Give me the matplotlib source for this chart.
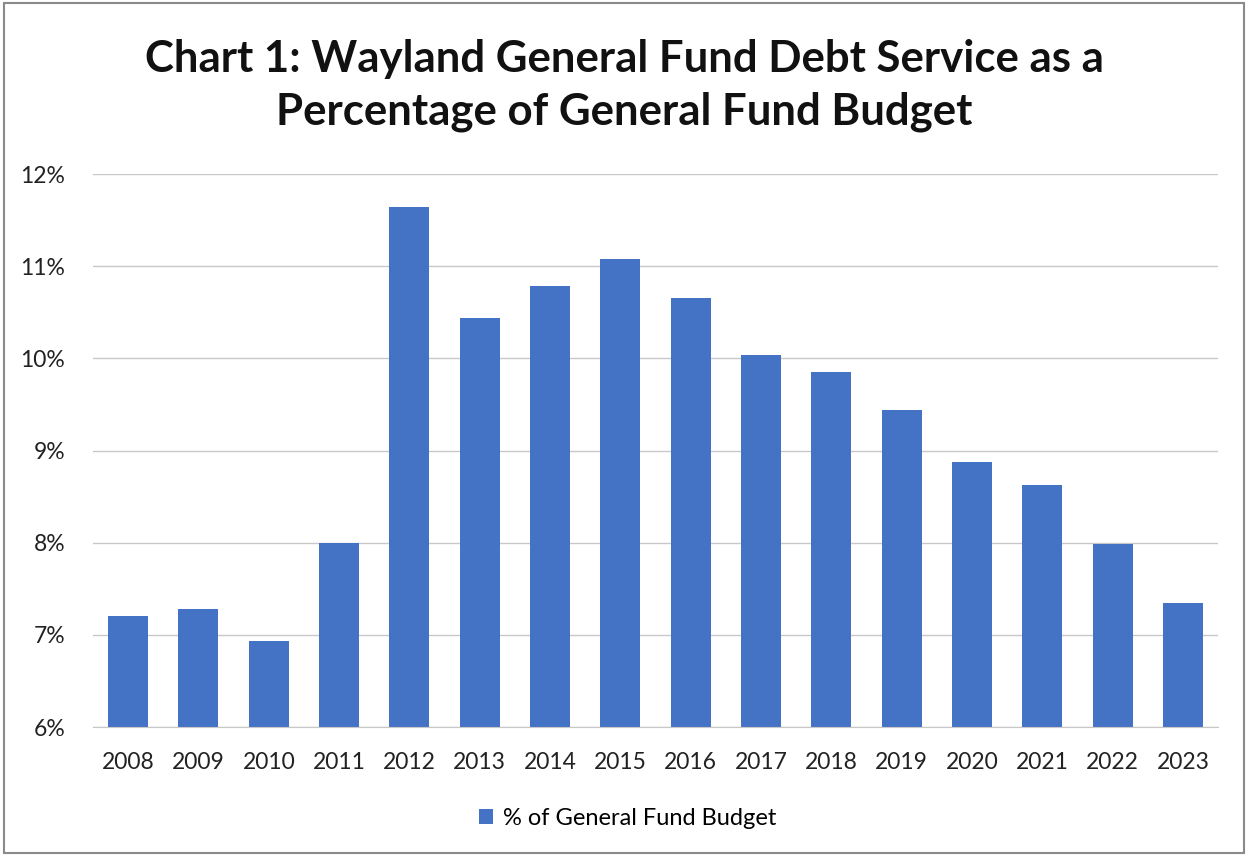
import matplotlib
matplotlib.use('Agg')
import matplotlib.pyplot as plt
from matplotlib.patches import Rectangle
from matplotlib.ticker import FuncFormatter

# data
years = ['2008', '2009', '2010', '2011', '2012', '2013', '2014', '2015',
         '2016', '2017', '2018', '2019', '2020', '2021', '2022', '2023']
pct_budget = [7.20, 7.28, 6.93, 8.00, 11.64, 10.44, 10.78, 11.08,
              10.66, 10.04, 9.85, 9.44, 8.87, 8.63, 7.99, 7.35]
series_name = '% of General Fund Budget'
title = 'Chart 1: Wayland General Fund Debt Service as a\nPercentage of General Fund Budget'

plt.rcParams['font.family'] = ['Lato', 'DejaVu Sans']

fig = plt.figure(figsize=(12.48, 8.56), dpi=100)
ax = fig.add_axes([0.0745, 0.1507, 0.9015, 0.646])

x = list(range(len(years)))
ax.bar(x, pct_budget, width=0.57, color='#4472C4', label=series_name, zorder=2)

ax.set_ylim(6, 12)
ax.set_xlim(-0.5, len(years) - 0.5)
ax.set_yticks(range(6, 13))
ax.yaxis.set_major_formatter(FuncFormatter(lambda v, p: '%d%%' % v))
ax.set_xticks(x)
ax.set_xticklabels(years)
ax.grid(axis='y', color='#c8c8c8', linewidth=1, zorder=0)
for s in ['top', 'right', 'left']:
    ax.spines[s].set_visible(False)
ax.spines['bottom'].set_color('#c8c8c8')
ax.tick_params(axis='both', length=0, labelsize=16.5, colors='#222222')
ax.tick_params(axis='y', pad=20)
ax.tick_params(axis='x', pad=18)

fig.text(0.5, 0.90, title, ha='center', va='center', fontsize=31.5,
         fontweight='bold', color='#111111', linespacing=1.38)

fig.legend(loc='center', bbox_to_anchor=(0.503, 0.044), frameon=False,
           fontsize=17, handlelength=0.6, handleheight=0.6, handletextpad=0.4)

# gray frame around the figure
fig.patches.append(Rectangle((0.003, 0.004), 0.994, 0.992, transform=fig.transFigure,
                             fill=False, edgecolor='#8a8a8a', linewidth=1.5))

fig.savefig('out.png', dpi=100)
